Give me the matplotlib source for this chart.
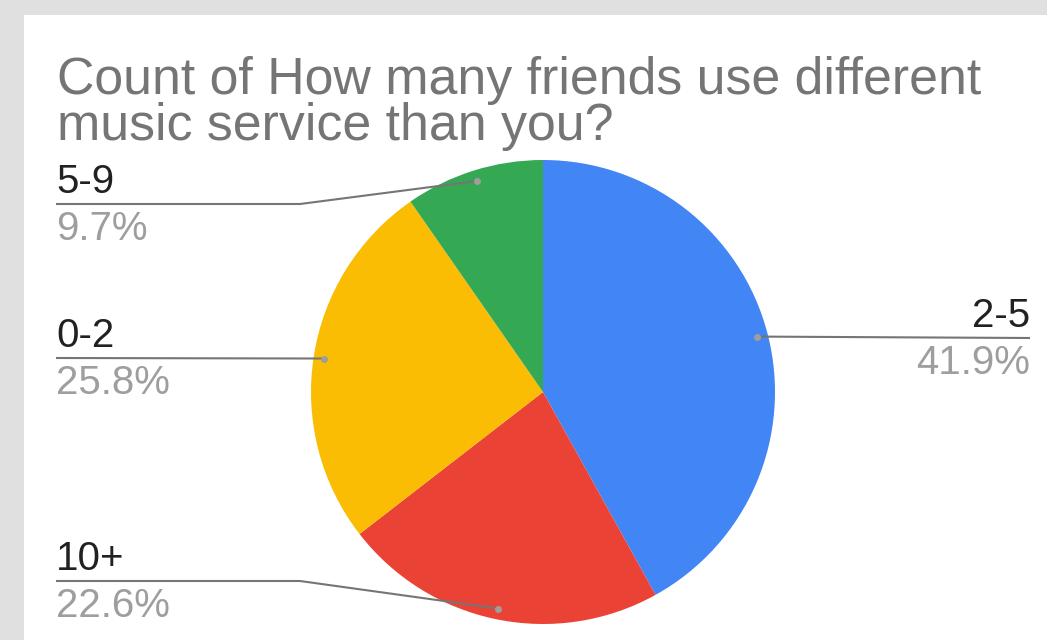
import matplotlib
matplotlib.use("Agg")
import matplotlib.pyplot as plt
import numpy as np

categories = ["2-5", "10+", "0-2", "5-9"]
counts = [13, 7, 8, 3]
colors = ["#4285F4", "#EA4335", "#FBBC04", "#34A853"]
title = "Count of How many friends use different\nmusic service than you?"

W, H = 1047, 640
fig = plt.figure(figsize=(W / 100, H / 100), dpi=100)
fig.patch.set_facecolor("#e0e0e0")
ax = fig.add_axes([0, 0, 1, 1])
ax.set_xlim(0, W)
ax.set_ylim(0, H)
ax.set_aspect("equal")
ax.axis("off")

def Y(y):
    return H - y

# white card
ax.add_patch(plt.Rectangle((24, 0), W - 24, H - 15, facecolor="white", edgecolor="none", zorder=0))

cx, cy, r = 543, Y(392), 232
ax.pie(counts, colors=colors, startangle=90, counterclock=False,
       center=(cx, cy), radius=r, frame=True,
       wedgeprops=dict(linewidth=0))
ax.set_xlim(0, W)
ax.set_ylim(0, H)
ax.axis("off")

font = "Liberation Sans"
ax.text(57, Y(140), title, fontsize=37.4, color="#757575", family=font,
        va="baseline", ha="left", linespacing=0.93)

total = sum(counts)
fracs = np.array(counts) / total
cum = np.concatenate([[0], np.cumsum(fracs)])
mids = (cum[:-1] + cum[1:]) / 2
angles = np.deg2rad(90 - mids * 360)
rd = 0.953 * r

# label layout: (side, line y in px, elbow x)
layout = {
    "2-5": ("right", 338, None),
    "10+": ("left", 581, 300),
    "0-2": ("left", 358, None),
    "5-9": ("left", 204, 300),
}
lc = "#757575"
for cat, frac, a in zip(categories, fracs, angles):
    side, ly, ex = layout[cat]
    dx = cx + rd * np.cos(a)
    dy = cy + rd * np.sin(a)
    ax.plot([dx], [dy], "o", color="#9e9e9e", ms=5, zorder=5, mec="none")
    pct = f"{frac*100:.1f}%"
    if side == "left":
        x0 = 56
        if ex is None:
            xs, ys = [x0, dx], [Y(ly), dy]
        else:
            xs, ys = [x0, ex, dx], [Y(ly), Y(ly), dy]
        ha = "left"
    else:
        x0 = 1030
        xs, ys = [dx, x0], [dy, Y(ly)]
        ha = "right"
    ax.plot(xs, ys, color=lc, lw=1.5, zorder=4, solid_capstyle="butt")
    ax.text(x0, Y(ly - 11), cat, fontsize=29, color="#212121", family=font,
            ha=ha, va="baseline")
    ax.text(x0, Y(ly + 36), pct, fontsize=29, color="#9e9e9e", family=font,
            ha=ha, va="baseline")

fig.savefig("out.png", dpi=100, facecolor=fig.get_facecolor())
